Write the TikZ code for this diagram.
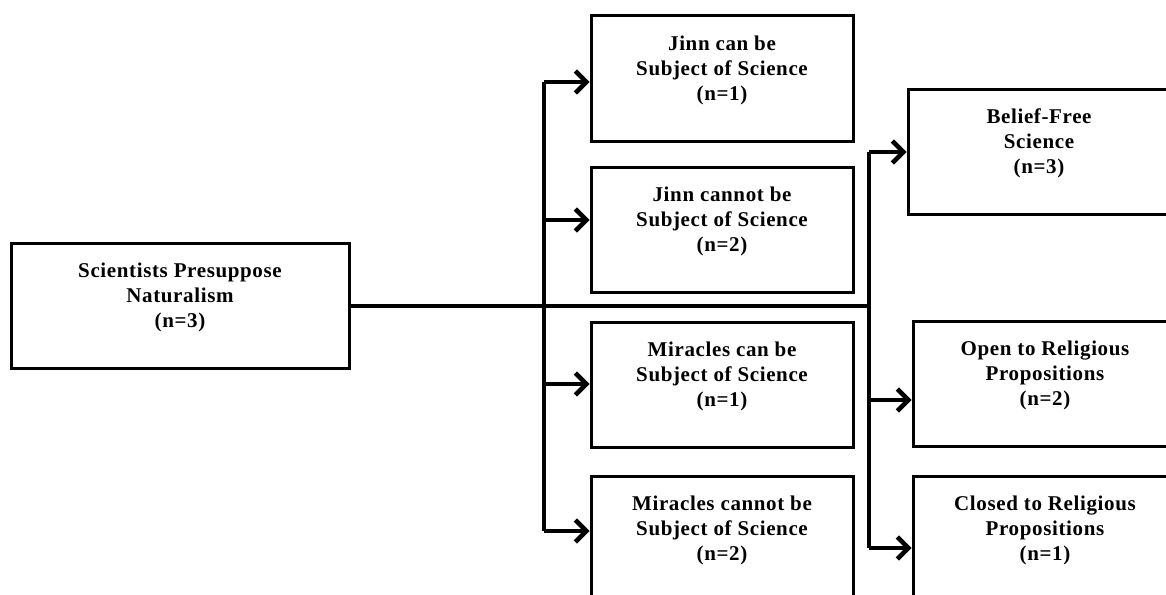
\documentclass[tikz,border=0pt]{standalone}
\usepackage{fontspec}
\setmainfont{Liberation Serif}[LetterSpace=3]
\usetikzlibrary{arrows.meta}
\tikzset{
  box/.style={draw=black, line width=3pt, rectangle, inner sep=0pt, minimum width=262pt, minimum height=125pt},
  lbl/.style={align=center, font=\bfseries\fontsize{21}{25}\selectfont, inner sep=0pt},
  conn/.style={line width=4.5pt, line join=miter},
  arr/.style={conn, -{Straight Barb[length=11pt,width=22pt]}}
}
\begin{document}
\begin{tikzpicture}[x=1pt,y=-1pt]
\useasboundingbox (0,0) rectangle (1166,594);
\clip (0,0) rectangle (1166,594);
% boxes
\node[box, minimum width=338pt] (a) at (180,306) {};
\node[box] (b1) at (722,78.5) {};
\node[box] (b2) at (722,229.5) {};
\node[box] (b3) at (722,384.5) {};
\node[box] (b4) at (722,538.5) {};
\node[box] (c1) at (1039,151.5) {};
\node[box, minimum width=264pt] (c2) at (1045,384) {};
\node[box, minimum width=264pt] (c3) at (1045,538.5) {};
% labels
\node[lbl] (ta) at ([yshift=8.5pt]a.center) {Scientists Presuppose\\Naturalism\\(n=3)};
\node[lbl] (tb1) at ([yshift=8.5pt]b1.center) {Jinn can be\\Subject of Science\\(n=1)};
\node[lbl] (tb2) at ([yshift=8.5pt]b2.center) {Jinn cannot be\\Subject of Science\\(n=2)};
\node[lbl] (tb3) at ([yshift=8.5pt]b3.center) {Miracles can be\\Subject of Science\\(n=1)};
\node[lbl] (tb4) at ([yshift=8.5pt]b4.center) {Miracles cannot be\\Subject of Science\\(n=2)};
\node[lbl] (tc1) at ([yshift=8.5pt]c1.center) {Belief-Free\\Science\\(n=3)};
\node[lbl] (tc2) at ([yshift=8.5pt]c2.center) {Open to Religious\\Propositions\\(n=2)};
\node[lbl] (tc3) at ([yshift=8.5pt]c3.center) {Closed to Religious\\Propositions\\(n=1)};
% junctions
\coordinate (l1) at (544,82);
\coordinate (l2) at (544,220);
\coordinate (l3) at (544,384);
\coordinate (l4) at (544,531);
\coordinate (r1) at (869,152);
\coordinate (r2) at (869,400);
\coordinate (r3) at (869,548);
\coordinate (rm) at (869,306);
% connectors
\draw[conn] (a.east) -- (rm);
\draw[conn] (l1) -- (l4);
\draw[conn] (r1) -- (r3);
\draw[arr] (l1) -- (l1 -| b1.west);
\draw[arr] (l2) -- (l2 -| b2.west);
\draw[arr] (l3) -- (l3 -| b3.west);
\draw[arr] (l4) -- (l4 -| b4.west);
\draw[arr] (r1) -- (r1 -| c1.west);
\draw[arr] (r2) -- (r2 -| c2.west);
\draw[arr] (r3) -- (r3 -| c3.west);
\end{tikzpicture}
\end{document}
